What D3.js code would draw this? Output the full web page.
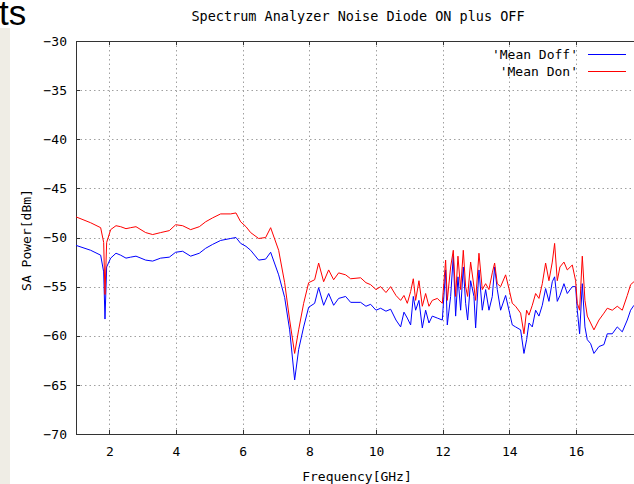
<!DOCTYPE html>
<html>
<head>
<meta charset="utf-8">
<script src="https://cdn.jsdelivr.net/npm/d3@7"></script>
<style>
  body { margin: 0; background: #fff; }
  svg { display: block; }
</style>
</head>
<body>
<div id="chart"></div>
<script>
const title = "Spectrum Analyzer Noise Diode ON plus OFF";
const xLabel = "Frequency[GHz]";
const yLabel = "SA Power[dBm]";
const seriesNames = ["'Mean Doff'", "'Mean Don'"];
const xTicks = [2, 4, 6, 8, 10, 12, 14, 16];
const yTicks = [-30, -35, -40, -45, -50, -55, -60, -65, -70];

// frequency samples (GHz)
const freq = [
  1.00, 1.44, 1.74, 1.83, 1.87, 1.92, 2.04, 2.2, 2.34, 2.5, 2.64, 2.8, 3.09, 3.3, 3.54,
  3.8, 3.99, 4.2, 4.44, 4.7, 4.89, 5.1, 5.34, 5.64, 5.8, 5.94, 6.1, 6.24, 6.48, 6.69,
  6.84, 7.08, 7.26, 7.41, 7.56, 7.68, 7.83, 7.98, 8.16, 8.28, 8.43, 8.58, 8.73, 8.88,
  9.09, 9.24, 9.54, 9.7, 9.84, 10.0, 10.14, 10.3, 10.44, 10.6,
  10.74, 10.84, 10.94, 11.04, 11.12, 11.19, 11.29, 11.39, 11.49, 11.59, 11.69, 11.84,
  11.99, 12.09, 12.14, 12.24, 12.32, 12.39, 12.46, 12.54, 12.62, 12.69, 12.75, 12.84,
  12.94, 12.99, 13.09, 13.19, 13.29, 13.39, 13.49, 13.56, 13.64, 13.74, 13.89, 13.99,
  14.09, 14.19, 14.34, 14.44, 14.52, 14.59, 14.69, 14.79, 14.89, 14.99, 15.09, 15.19,
  15.29, 15.36, 15.44, 15.52, 15.64, 15.74, 15.89, 15.99, 16.04, 16.11, 16.19, 16.27,
  16.34, 16.44, 16.54, 16.69, 16.84, 16.94, 17.09, 17.24, 17.39, 17.54, 17.64, 17.74
];

const meanDoff = [
  -50.8, -51.3, -51.8, -53.5, -58.3, -53.0, -52.1, -51.6, -51.8, -52.1, -52.0, -51.9, -52.3, -52.4, -52.1,
  -52.0, -51.5, -51.4, -51.9, -51.6, -51.1, -50.7, -50.3, -50.1, -50.0, -50.6, -50.9, -51.3, -52.3, -52.2,
  -51.5, -53.8, -56.1, -59.4, -64.5, -61.4, -59.1, -57.1, -56.7, -55.1, -56.9, -55.7, -56.9, -56.2,
  -56.0, -56.6, -56.6, -57.0, -56.8, -57.4, -57.2, -57.5, -57.3, -58.4,
  -59.1, -57.6, -58.2, -58.9, -56.0, -57.4, -56.4, -59.2, -57.4, -58.7, -58.0, -58.2,
  -58.4, -53.3, -58.9, -56.0, -51.9, -58.0, -54.0, -57.4, -53.0, -56.7, -58.4, -54.4,
  -56.0, -59.2, -53.3, -57.4, -55.3, -57.4, -56.0, -53.0, -55.3, -57.4, -55.9, -57.4,
  -58.9, -59.1, -59.4, -61.8, -60.4, -58.7, -59.1, -57.4, -58.0, -56.9, -55.2, -56.5,
  -54.5, -54.0, -56.5, -55.9, -54.7, -55.7, -55.0, -55.0, -57.4, -59.8, -54.7, -59.1,
  -60.4, -60.8, -61.8, -61.1, -60.9, -59.8, -59.8, -59.1, -59.6, -58.4, -57.4, -56.9
];

const meanDon = [
  -47.9, -48.5, -49.0, -50.5, -55.8, -50.5, -49.2, -48.8, -48.9, -49.1, -49.0, -48.9, -49.5, -49.7, -49.5,
  -49.3, -48.7, -48.8, -49.2, -48.9, -48.4, -48.0, -47.6, -47.6, -47.5, -48.4, -48.9, -49.5, -50.1, -50.0,
  -49.0, -51.3, -54.6, -58.4, -61.8, -59.4, -56.7, -54.6, -54.3, -52.6, -54.5, -53.3, -54.3, -53.6,
  -53.8, -54.2, -54.1, -54.6, -54.8, -55.3, -55.0, -55.6, -55.0, -55.9,
  -56.4, -55.9, -56.7, -55.5, -54.2, -56.4, -54.4, -57.0, -55.7, -57.0, -56.4, -56.2,
  -56.7, -52.3, -56.4, -53.0, -51.3, -56.0, -51.9, -55.3, -51.3, -55.0, -56.0, -52.5,
  -55.0, -56.4, -51.6, -55.3, -54.7, -55.3, -53.6, -52.6, -54.7, -55.0, -53.8, -55.2,
  -56.7, -57.0, -57.7, -59.8, -57.4, -57.9, -56.9, -55.7, -56.2, -54.7, -52.6, -54.4,
  -52.5, -50.6, -54.4, -53.0, -52.5, -53.3, -52.8, -54.4, -56.7, -57.4, -51.9, -56.4,
  -58.0, -58.7, -59.4, -58.4, -57.7, -57.2, -57.4, -57.0, -57.4, -55.9, -54.8, -54.5
];

const width = 634, height = 484;
const margin = { top: 41, left: 76, bottom: 434 };
const font = "DejaVu Sans Mono";

const svg = d3.select("#chart").append("svg")
  .attr("width", width)
  .attr("height", height);

// leftover strip of the surrounding page
svg.append("rect")
  .attr("x", 0).attr("y", 28)
  .attr("width", 10).attr("height", height - 28)
  .attr("fill", "#efede5");
svg.append("text")
  .attr("x", -1).attr("y", 25)
  .style("font-family", "Liberation Sans")
  .style("font-size", "35px")
  .attr("fill", "#000")
  .text("ts");

const x = d3.scaleLinear().domain([1, 18]).range([margin.left, margin.left + 17 * 33.33]);
const y = d3.scaleLinear().domain([-70, -30]).range([margin.bottom, margin.top]);

svg.append("clipPath").attr("id", "plotclip")
  .append("rect")
  .attr("x", margin.left).attr("y", margin.top)
  .attr("width", width - margin.left).attr("height", margin.bottom - margin.top);

// grid
const grid = svg.append("g")
  .attr("stroke", "#a0a0a0")
  .attr("stroke-width", 1)
  .attr("stroke-dasharray", "1.5,3");
grid.selectAll(".vg").data(xTicks).enter().append("line")
  .attr("x1", d => Math.round(x(d)) + 0.5).attr("x2", d => Math.round(x(d)) + 0.5)
  .attr("y1", margin.top).attr("y2", margin.bottom);
grid.selectAll(".hg").data(yTicks.slice(1, -1)).enter().append("line")
  .attr("x1", margin.left).attr("x2", width)
  .attr("y1", d => Math.round(y(d)) + 0.5).attr("y2", d => Math.round(y(d)) + 0.5);

// frame
const frame = svg.append("g").attr("stroke", "#333").attr("stroke-width", 1).attr("fill", "none");
frame.append("path")
  .attr("d", `M${width},${margin.top + 0.5}H${margin.left + 0.5}V${margin.bottom + 0.5}H${width}`);
xTicks.forEach(t => {
  const px = Math.round(x(t)) + 0.5;
  frame.append("line").attr("x1", px).attr("x2", px).attr("y1", margin.bottom).attr("y2", margin.bottom - 4);
  frame.append("line").attr("x1", px).attr("x2", px).attr("y1", margin.top).attr("y2", margin.top + 4);
});
yTicks.forEach(t => {
  const py = Math.round(y(t)) + 0.5;
  frame.append("line").attr("x1", margin.left).attr("x2", margin.left + 4).attr("y1", py).attr("y2", py);
});

// tick labels
const fmt = d3.format("d");
svg.append("g").selectAll("text").data(yTicks).enter().append("text")
  .attr("x", 67).attr("y", d => y(d))
  .attr("dy", "0.36em")
  .attr("text-anchor", "end")
  .style("font-family", font).style("font-size", "13px")
  .text(d => fmt(d));
svg.append("g").selectAll("text").data(xTicks).enter().append("text")
  .attr("x", d => x(d) + 0.5).attr("y", 456)
  .attr("text-anchor", "middle")
  .style("font-family", font).style("font-size", "13px")
  .text(d => d);

svg.append("text")
  .attr("x", 358).attr("y", 21)
  .attr("text-anchor", "middle")
  .style("font-family", font).style("font-size", "13.5px")
  .text(title);
svg.append("text")
  .attr("x", 357).attr("y", 481)
  .attr("text-anchor", "middle")
  .style("font-family", font).style("font-size", "13px")
  .text(xLabel);
svg.append("text")
  .attr("transform", "translate(31,240) rotate(-90)")
  .attr("text-anchor", "middle")
  .style("font-family", font).style("font-size", "13px")
  .text(yLabel);

// series
const colors = ["#0000ff", "#ff0000"];
const series = [meanDoff, meanDon];
const line = d3.line()
  .x(d => x(d[0]))
  .y(d => y(d[1]));

const plot = svg.append("g").attr("clip-path", "url(#plotclip)");
series.forEach((vals, i) => {
  plot.append("path")
    .datum(freq.map((f, j) => [f, vals[j]]))
    .attr("fill", "none")
    .attr("stroke", colors[i])
    .attr("stroke-width", 1)
    .attr("d", line);
});

// legend
const legend = svg.append("g");
seriesNames.forEach((name, i) => {
  const ly = 54 + i * 17;
  legend.append("text")
    .attr("x", 578).attr("y", ly)
    .attr("dy", "0.36em")
    .attr("text-anchor", "end")
    .style("font-family", font).style("font-size", "13px")
    .text(name);
  legend.append("line")
    .attr("x1", 588).attr("x2", 626)
    .attr("y1", ly + 0.5).attr("y2", ly + 0.5)
    .attr("stroke", colors[i]).attr("stroke-width", 1);
});
</script>
</body>
</html>
